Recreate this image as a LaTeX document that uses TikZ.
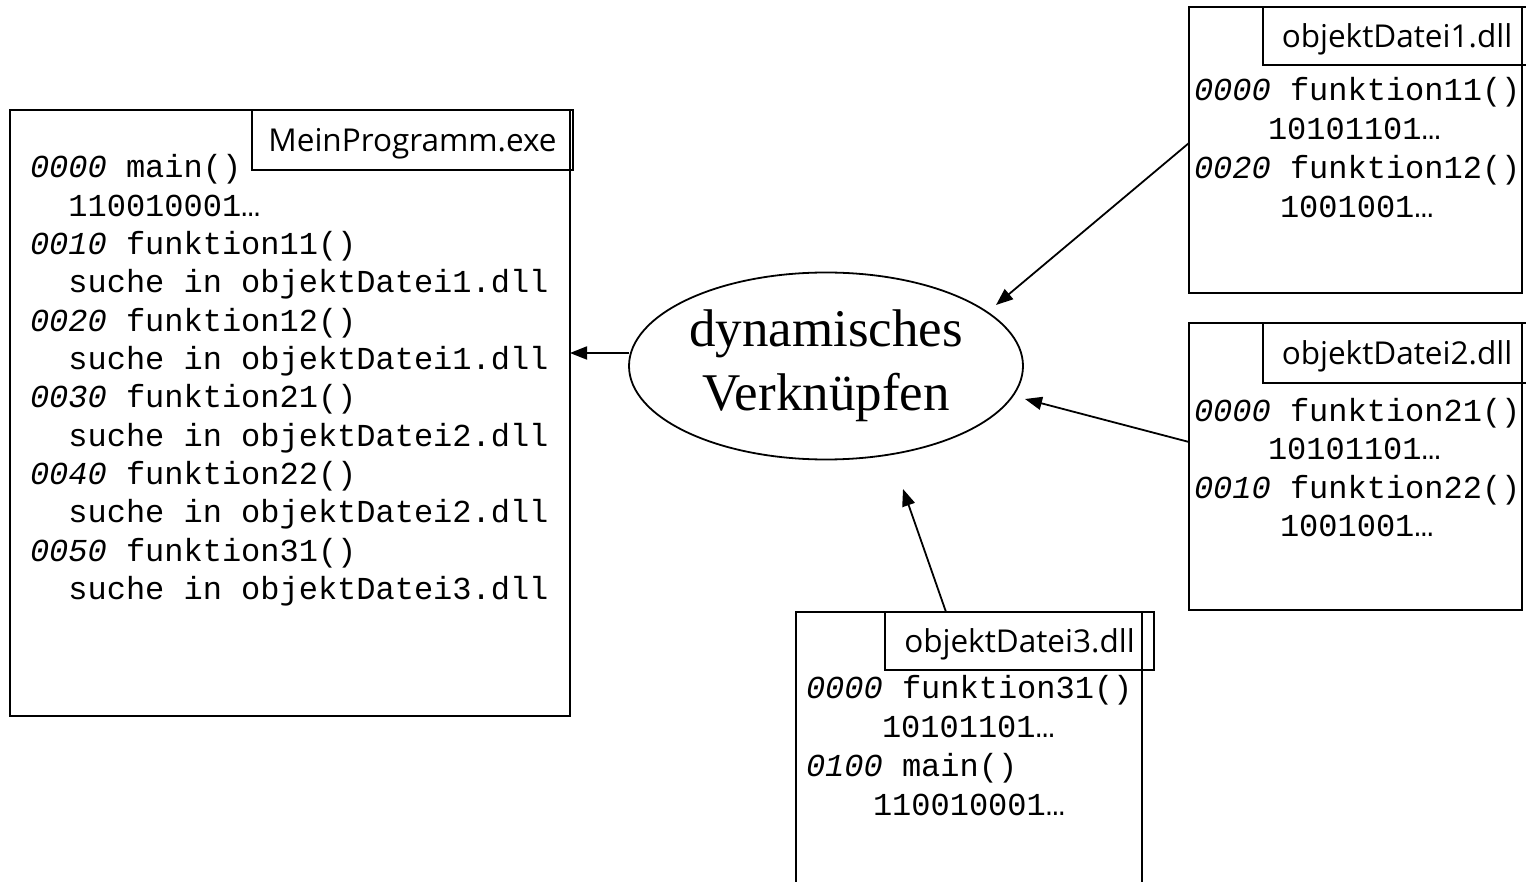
\documentclass[tikz,border=0pt]{standalone}
\usepackage{fontspec}
\setmainfont{Liberation Serif}
\setmonofont{Liberation Mono}
\setsansfont{Open Sans}
\usetikzlibrary{shapes.geometric,arrows.meta}

\newcommand\addr[1]{\textit{#1}}

\begin{document}
\begin{tikzpicture}[x=1pt,y=-1pt,
  every node/.style={inner sep=0pt, outer sep=0pt},
  frame/.style={draw, line width=1.9pt, rectangle, anchor=north west},
  tag/.style={frame, font=\sffamily\fontsize{31.5}{36}\selectfont,
              text height=24pt, text depth=1pt},
  code/.style={anchor=base west, font=\ttfamily\fontsize{32}{38.4}\selectfont},
  arr/.style={line width=1.8pt, -{Triangle[length=17pt,width=13pt]}},
]
\fill[white] (0,0) rectangle (1526,882);
\useasboundingbox (0,0) rectangle (1526,882);

% executable
\node[frame, minimum width=560pt, minimum height=606pt] (prog) at (10,110) {};
\node[tag, minimum width=321pt, minimum height=60pt] (progtag) at (252,110) {MeinProgramm.exe};
\foreach \t [count=\i] in {
  {\addr{0000} main()},
  {\ \ 110010001…},
  {\addr{0010} funktion11()},
  {\ \ suche in objektDatei1.dll},
  {\addr{0020} funktion12()},
  {\ \ suche in objektDatei1.dll},
  {\addr{0030} funktion21()},
  {\ \ suche in objektDatei2.dll},
  {\addr{0040} funktion22()},
  {\ \ suche in objektDatei2.dll},
  {\addr{0050} funktion31()},
  {\ \ suche in objektDatei3.dll}}
  \node[code] (prog-l\i) at (30,{139.7+38.3*\i}) {\t};

% library 1
\node[frame, minimum width=333pt, minimum height=286pt] (dll1) at (1189,7) {};
\node[tag, minimum width=268pt, minimum height=58pt] (dll1tag) at (1263,7) {objektDatei1.dll};
\node[code] (dll1-l1) at (1194,101) {\addr{0000} funktion11()};
\node[code] (dll1-l2) at (1268,140) {10101101…};
\node[code] (dll1-l3) at (1194,179) {\addr{0020} funktion12()};
\node[code] (dll1-l4) at (1280,218) {1001001…};

% library 2
\node[frame, minimum width=333pt, minimum height=287pt] (dll2) at (1189,323) {};
\node[tag, minimum width=268pt, minimum height=60pt] (dll2tag) at (1263,323) {objektDatei2.dll};
\node[code] (dll2-l1) at (1194,421) {\addr{0000} funktion21()};
\node[code] (dll2-l2) at (1268,459.5) {10101101…};
\node[code] (dll2-l3) at (1194,498) {\addr{0010} funktion22()};
\node[code] (dll2-l4) at (1280,536.5) {1001001…};

% library 3
\node[frame, minimum width=346pt, minimum height=300pt] (dll3) at (796,612) {};
\node[tag, minimum width=269pt, minimum height=58pt] (dll3tag) at (885,612) {objektDatei3.dll};
\node[code] (dll3-l1) at (806,698) {\addr{0000} funktion31()};
\node[code] (dll3-l2) at (882,737) {10101101…};
\node[code] (dll3-l3) at (806,776) {\addr{0100} main()};
\node[code] (dll3-l4) at (873,815) {110010001…};

% linker
\node[draw, line width=1.8pt, ellipse, minimum width=394pt, minimum height=187pt,
      align=center, font=\fontsize{53}{64}\selectfont] (link) at (826,366) {dynamisches\\Verknüpfen};

% connectors
\coordinate (in1) at (996,305);
\coordinate (in2) at (1025,399);
\coordinate (in3) at (903,489);
\coordinate (out) at (570,353);
\draw[arr] (link.west |- out) -- (prog.east |- out);
\draw[arr] (dll1.west |- 0,143) -- (in1);
\draw[arr] (dll2.west |- 0,442) -- (in2);
\draw[arr] (dll3.north -| 946,0) -- (in3);
\end{tikzpicture}
\end{document}
